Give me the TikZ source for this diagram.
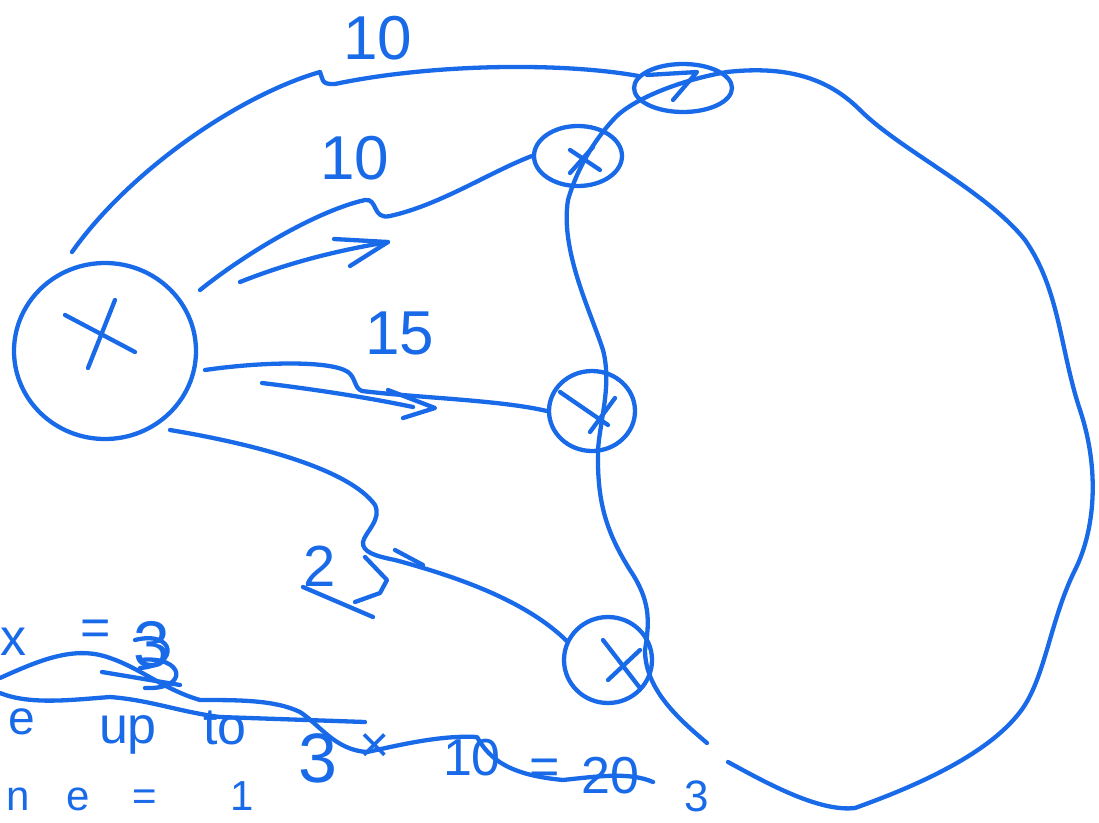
\documentclass[tikz,border=0pt]{standalone}
\usepackage{fontspec}
\setmainfont{Liberation Sans}
\usetikzlibrary{shapes.geometric,calc}
\definecolor{handblue}{RGB}{24,106,232}
\tikzset{
  hand/.style={draw=handblue, line width=4.3pt, line cap=round, line join=round},
  ringnode/.style={ellipse, hand, inner sep=0pt},
  lbl/.style={text=handblue, inner sep=0pt, font=\fontsize{62}{62}\selectfont},
  note/.style={text=handblue, inner sep=0pt, font=\fontsize{52}{52}\selectfont}
}
\begin{document}
\begin{tikzpicture}[x=1pt,y=-1pt]
\useasboundingbox (0,0) rectangle (1099,822);

% nodes (rings)
\node[ringnode, minimum width=182pt, minimum height=176pt] (B) at (105,351) {};
\node[ringnode, minimum width=98pt, minimum height=48pt] (C1) at (683,88) {};
\node[ringnode, minimum width=88pt, minimum height=60pt] (C2) at (578,156) {};
\node[ringnode, minimum width=86pt, minimum height=80pt] (C3) at (592,411) {};
\node[ringnode, minimum width=88pt, minimum height=86pt] (C4) at (608,660) {};

% crosses inside the rings
\draw[hand] ($(B)+(-40,-36)$) -- ($(B)+(30,1)$);
\draw[hand] ($(B)+(10,-51)$) -- ($(B)+(-17,17)$);
\draw[hand] ($(C1)+(-36,-13)$) -- ($(C1)+(14,-16)$) -- ($(C1)+(-10,12)$);
\draw[hand] ($(C2)+(-8,-6)$) -- ($(C2)+(22,14)$);
\draw[hand] ($(C2)+(15,-9)$) -- ($(C2)+(-8,17)$);
\draw[hand] ($(C3)+(-32,-19)$) -- ($(C3)+(16,14)$);
\draw[hand] ($(C3)+(23,-13)$) -- ($(C3)+(-2,21)$);
\draw[hand] ($(C4)+(-5,-20)$) -- ($(C4)+(32,28)$);
\draw[hand] ($(C4)+(32,-10)$) -- ($(C4)+(0,20)$);

% free ends of connectors
\coordinate (s1) at (72,252);
\coordinate (s2) at (200,290);
\coordinate (s3) at (205,370);
\coordinate (s4) at (170,430);

% connectors
\draw[hand] (s1) .. controls (130,170) and (240,95) .. (320,72)
  .. controls (323,78) and (320,85) .. (335,84)
  .. controls (430,64) and (560,62) .. (C1.165);
\draw[hand] (s2) .. controls (250,250) and (320,210) .. (365,200)
  .. controls (378,198) and (372,220) .. (390,216)
  .. controls (440,205) and (490,172) .. (C2.west);
\draw[hand] (s3) .. controls (260,362) and (330,360) .. (348,372)
  .. controls (356,378) and (354,388) .. (362,391)
  .. controls (420,398) and (500,400) .. (C3.west);
\draw[hand] (s4) .. controls (260,445) and (350,470) .. (375,505)
  .. controls (382,520) and (365,532) .. (363,542)
  .. controls (362,552) and (375,556) .. (395,560)
  .. controls (470,580) and (530,605) .. (C4.155);

% direction arrows
\coordinate (a2s) at (240,282);
\coordinate (a2e) at (388,242);
\draw[hand] (a2s) .. controls (290,262) and (340,250) .. (a2e);
\draw[hand] (334,239) -- (a2e) -- (350,266);
\coordinate (a3s) at (262,383);
\coordinate (a3e) at (435,408);
\draw[hand] (a3s) .. controls (320,390) and (370,398) .. (413,407);
\draw[hand] (388,390) -- (a3e) -- (403,418);

% the big region
\draw[hand] (727,72) .. controls (790,65) and (830,80) .. (860,110)
  .. controls (900,150) and (985,190) .. (1025,240)
  .. controls (1060,290) and (1060,350) .. (1080,410)
  .. controls (1100,470) and (1095,530) .. (1075,570)
  .. controls (1050,620) and (1045,680) .. (1020,712)
  .. controls (985,758) and (905,790) .. (855,808)
  .. controls (820,812) and (770,785) .. (728,762);
\draw[hand] (727,72) .. controls (680,80) and (630,100) .. (613,120)
  .. controls (590,145) and (575,175) .. (568,200)
  .. controls (560,250) and (590,310) .. (603,350)
  .. controls (612,385) and (600,420) .. (598,450)
  .. controls (597,500) and (605,530) .. (630,570)
  .. controls (650,600) and (650,620) .. (645,650)
  .. controls (645,690) and (680,720) .. (707,743);

% labels
\node[lbl] (l1) at (378,38) {10};
\node[lbl] (l2) at (355,158) {10};
\node[lbl] (l3) at (400,333) {15};
\node[lbl, font=\fontsize{58}{58}\selectfont] (l4) at (320,566) {2};
\draw[hand] (395,550) -- (423,565);
\draw[hand] (365,557) -- (387,580) -- (380,593) -- (355,602);
\draw[hand] (303,587) -- (373,617);

% notes, bottom left
\node[note] (n1) at (14,642) {x};
\node[note] (n2) at (96,633) {=};
\node[note, font=\fontsize{66}{66}\selectfont] (n3) at (152,645) {3};
\draw[hand] (135,640) .. controls (175,630) and (180,665) .. (140,668);
\draw[hand] (140,660) .. controls (185,655) and (190,690) .. (145,688);
\draw[hand] (102,672) -- (180,685);

\node[note, font=\fontsize{48}{48}\selectfont] (e1) at (22,722) {e};
\node[note] (e2) at (128,735) {up};
\node[note] (e3) at (225,728) {to};
\node[note, font=\fontsize{70}{70}\selectfont] (e4) at (318,758) {3};
\node[note] (e5) at (375,748) {×};
\node[note] (e6) at (472,758) {10};
\node[note] (e7) at (545,772) {=};
\node[note] (e8) at (610,776) {20};
\node[note, font=\fontsize{44}{44}\selectfont] (e9) at (697,796) {3};

\node[note, anchor=base, font=\fontsize{42}{42}\selectfont] (f1) at (18,810) {n};
\node[note, anchor=base, font=\fontsize{42}{42}\selectfont] (f2) at (78,810) {e};
\node[note, anchor=base, font=\fontsize{42}{42}\selectfont] (f3) at (145,810) {=};
\node[note, anchor=base, font=\fontsize{42}{42}\selectfont] (f4) at (242,810) {1};

% strike-through strokes
\draw[hand] (0,678) .. controls (40,660) and (75,645) .. (110,658)
  .. controls (140,668) and (165,690) .. (200,700)
  .. controls (240,700) and (275,700) .. (300,712)
  .. controls (320,725) and (335,750) .. (367,752)
  .. controls (400,745) and (440,735) .. (477,737)
  .. controls (490,760) and (510,775) .. (563,780)
  .. controls (600,776) and (630,772) .. (653,782);
\draw[hand] (0,693) .. controls (30,705) and (70,700) .. (110,697)
  .. controls (150,700) and (180,712) .. (220,717) -- (365,722);
\end{tikzpicture}
\end{document}
